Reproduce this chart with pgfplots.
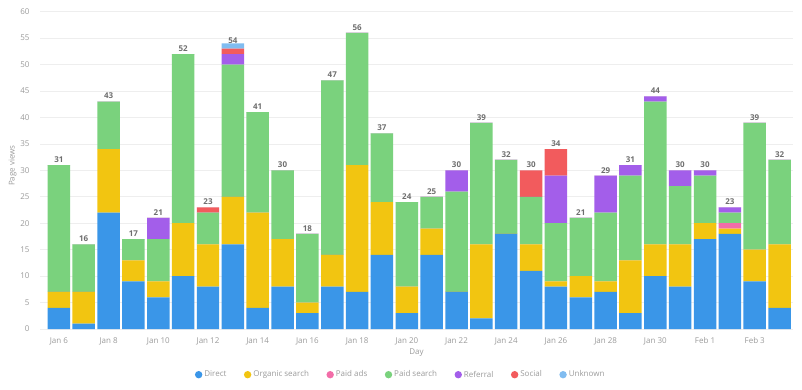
\documentclass[border=0pt]{standalone}
\usepackage{fontspec}
\setmainfont{Open Sans}
\usepackage{pgfplots}
\usepackage{pgfplotstable}
\pgfplotsset{compat=1.18}
\definecolor{cDirect}{HTML}{3A96E8}
\definecolor{cOrganic}{HTML}{F2C511}
\definecolor{cPaidAds}{HTML}{F26DA8}
\definecolor{cPaidSearch}{HTML}{7AD27D}
\definecolor{cReferral}{HTML}{A35EEA}
\definecolor{cSocial}{HTML}{F25B5D}
\definecolor{cUnknown}{HTML}{80BCF0}
\definecolor{gridc}{HTML}{EEEEEE}
\definecolor{tickc}{HTML}{9A9A9A}
\definecolor{totc}{HTML}{6E6E6E}
\pgfplotstableread{
x direct organic paidads paidsearch referral social unknown total
0 4 3 0 24 0 0 0 31
1 1 6 0 9 0 0 0 16
2 22 12 0 9 0 0 0 43
3 9 4 0 4 0 0 0 17
4 6 3 0 8 4 0 0 21
5 10 10 0 32 0 0 0 52
6 8 8 0 6 0 1 0 23
7 16 9 0 25 2 1 1 54
8 4 18 0 19 0 0 0 41
9 8 9 0 13 0 0 0 30
10 3 2 0 13 0 0 0 18
11 8 6 0 33 0 0 0 47
12 7 24 0 25 0 0 0 56
13 14 10 0 13 0 0 0 37
14 3 5 0 16 0 0 0 24
15 14 5 0 6 0 0 0 25
16 7 0 0 19 4 0 0 30
17 2 14 0 23 0 0 0 39
18 18 0 0 14 0 0 0 32
19 11 5 0 9 0 5 0 30
20 8 1 0 11 9 5 0 34
21 6 4 0 11 0 0 0 21
22 7 2 0 13 7 0 0 29
23 3 10 0 16 2 0 0 31
24 10 6 0 27 1 0 0 44
25 8 8 0 11 3 0 0 30
26 17 3 0 9 1 0 0 30
27 18 1 1 2 1 0 0 23
28 9 6 0 24 0 0 0 39
29 4 12 0 16 0 0 0 32
}\datatable
\begin{document}
\begin{tikzpicture}
\begin{axis}[
  at={(40pt,60pt)}, anchor=south west,
  scale only axis, width=753pt, height=317.3pt,
  xmin=-0.76, xmax=29.54, ymin=0, ymax=60,
  ybar stacked, bar width=0.905,
  stacked ignores zero=false,
  ytick={0,5,...,60},
  xtick={0,2,...,28},
  xticklabels={Jan 6,Jan 8,Jan 10,Jan 12,Jan 14,Jan 16,Jan 18,Jan 20,Jan 22,Jan 24,Jan 26,Jan 28,Jan 30,Feb 1,Feb 3},
  ymajorgrids, grid style={color=gridc, line width=0.7pt},
  axis line style={draw=none}, major tick length=0pt,
  tick label style={font=\fontsize{8}{9}\selectfont, text=tickc},
  /pgf/number format/assume math mode=true,
  yticklabel style={xshift=-7pt},
  xticklabel style={yshift=-5pt},
  xlabel={Day}, ylabel={Page views},
  every axis x label/.style={at={(axis description cs:0.5,-0.0747)}, anchor=center, font=\fontsize{8}{9}\selectfont, text=tickc},
  every axis y label/.style={at={(axis description cs:-0.0363,0.515)}, anchor=center, rotate=90, font=\fontsize{8}{9}\selectfont, text=tickc},
  legend columns=7,
  legend style={draw=none, fill=none, at={(axis description cs:0.479,-0.144)}, anchor=center,
    font=\fontsize{8}{9}\selectfont, text=tickc,
    /tikz/every even column/.append style={column sep=15.5pt}},
  legend image code/.code={\fill[#1,draw=none] (0pt,0pt) circle (3.7pt);},
  every axis plot/.append style={draw=none},
]
\addplot[fill=cDirect] table[x=x,y=direct]{\datatable};
\addlegendentry{Direct}
\addplot[fill=cOrganic] table[x=x,y=organic]{\datatable};
\addlegendentry{Organic search}
\addplot[fill=cPaidAds] table[x=x,y=paidads]{\datatable};
\addlegendentry{Paid ads}
\addplot[fill=cPaidSearch] table[x=x,y=paidsearch]{\datatable};
\addlegendentry{Paid search}
\addplot[fill=cReferral] table[x=x,y=referral]{\datatable};
\addlegendentry{Referral}
\addplot[fill=cSocial] table[x=x,y=social]{\datatable};
\addlegendentry{Social}
\addplot[fill=cUnknown, point meta=explicit,
  nodes near coords={\pgfmathprintnumber{\pgfplotspointmeta}},
  every node near coord/.append style={font=\bfseries\fontsize{8}{9}\selectfont, text=totc, yshift=5.5pt}]
  table[x=x,y=unknown,meta=total]{\datatable};
\addlegendentry{Unknown}
\end{axis}
\pgfresetboundingbox
\path (0,0) rectangle (802pt,389pt);
\end{tikzpicture}
\end{document}
